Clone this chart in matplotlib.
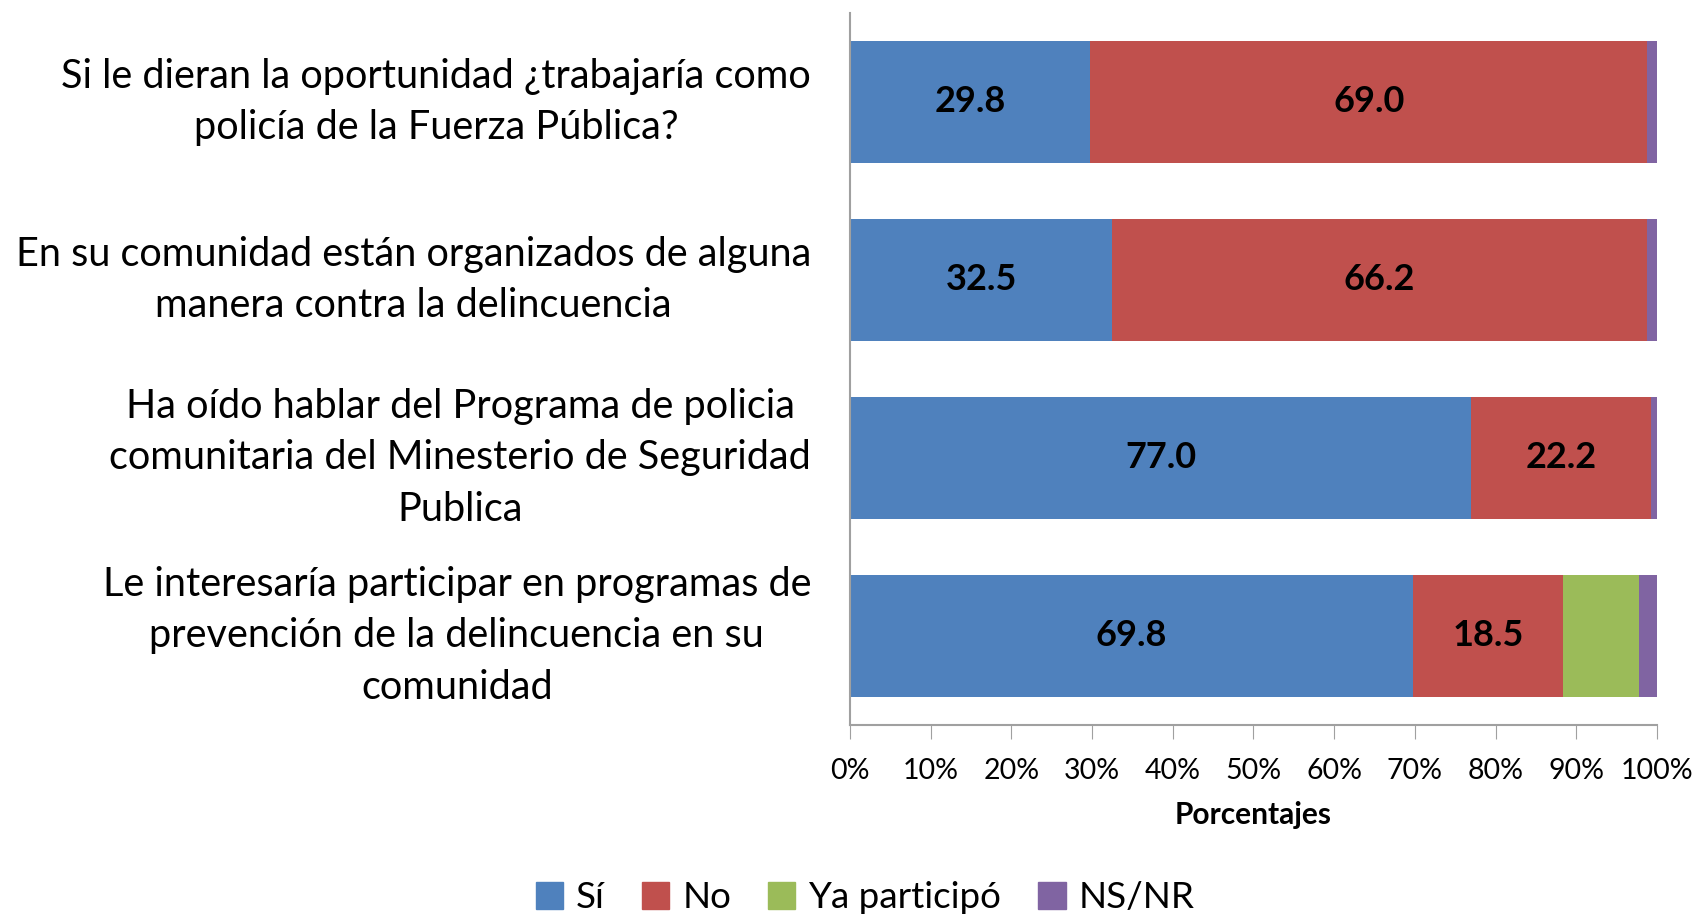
import matplotlib
matplotlib.use("Agg")
import matplotlib.pyplot as plt
from matplotlib.patches import Patch
import numpy as np

plt.rcParams['font.family'] = ['Lato', 'DejaVu Sans']

categories = [
    "Si le dieran la oportunidad ¿trabajaría como\npolicía de la Fuerza Pública?",
    "En su comunidad están organizados de alguna\nmanera contra la delincuencia",
    "Ha oído hablar del Programa de policia\ncomunitaria del Minesterio de Seguridad\nPublica",
    "Le interesaría participar en programas de\nprevención de la delincuencia en su\ncomunidad",
]
series_names = ["Sí", "No", "Ya participó", "NS/NR"]
si = [29.8, 32.5, 77.0, 69.8]
no = [69.0, 66.2, 22.2, 18.5]
ya = [0.0, 0.0, 0.0, 9.5]
nsnr = [1.2, 1.3, 0.8, 2.2]
colors = ["#4F81BD", "#C0504D", "#9BBB59", "#8064A2"]
xticklabels = ["0%", "10%", "20%", "30%", "40%", "50%", "60%", "70%", "80%", "90%", "100%"]

fig = plt.figure(figsize=(16.96, 9.19), dpi=100)
ax = fig.add_axes([850/1696, 1 - 725/919, 807/1696, 712/919])

data = np.array([si, no, ya, nsnr])
totals = data.sum(axis=0)
pct = data / totals * 100
y = np.arange(len(categories))
left = np.zeros(len(categories))
for i, name in enumerate(series_names):
    ax.barh(y, pct[i], left=left, height=0.69, color=colors[i], label=name)
    if i < 2:
        for yi, (l, w, v) in enumerate(zip(left, pct[i], data[i])):
            ax.text(l + w / 2, yi, f"{v:.1f}", ha="center", va="center",
                    fontsize=26, fontweight="bold", color="black")
    left += pct[i]

ax.set_xlim(0, 100)
ax.set_ylim(3.5, -0.5)
ax.set_yticks(y)
ax.set_yticklabels(categories, fontsize=28.5, multialignment="center",
                   linespacing=1.47, va="center")
ax.set_xticks(np.arange(0, 101, 10))
ax.set_xticklabels(xticklabels, fontsize=20.5)
ax.tick_params(axis="y", length=0, pad=28)
ax.tick_params(axis="x", direction="out", length=10, color="#A0A0A0", pad=14)
for s in ["top", "right"]:
    ax.spines[s].set_visible(False)
for s in ["left", "bottom"]:
    ax.spines[s].set_color("#A0A0A0")
    ax.spines[s].set_linewidth(1.5)
ax.set_xlabel("Porcentajes", fontsize=21.5, fontweight="bold", labelpad=12)

handles = [Patch(color=c) for c in colors]
fig.legend(handles, series_names, loc="center", bbox_to_anchor=(865/1696, 1 - 898/919),
           ncol=4, frameon=False, fontsize=26.5, handlelength=0.75, handleheight=0.75,
           handletextpad=0.35, columnspacing=1.0)

fig.savefig("out.png", dpi=100)
